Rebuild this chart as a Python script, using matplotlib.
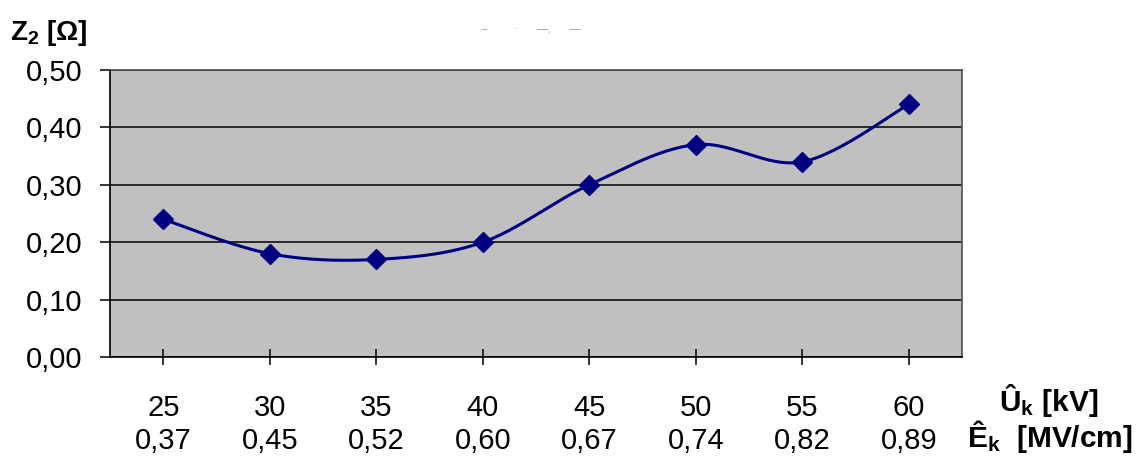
import numpy as np
import matplotlib
matplotlib.use("Agg")
import matplotlib.pyplot as plt

plt.rcParams["font.family"] = ["Liberation Sans", "DejaVu Sans"]
plt.rcParams["mathtext.fontset"] = "custom"
plt.rcParams["mathtext.rm"] = "Liberation Sans"
plt.rcParams["mathtext.bf"] = "Liberation Sans:bold"

# peak voltage [kV] and peak field [MV/cm] per measurement
u_kv = ["25", "30", "35", "40", "45", "50", "55", "60"]
e_mvcm = ["0,37", "0,45", "0,52", "0,60", "0,67", "0,74", "0,82", "0,89"]
z2 = [0.24, 0.18, 0.17, 0.20, 0.30, 0.37, 0.34, 0.44]

NAVY = "#000080"


def smooth(x, y, n=30, t=1 / 6):
    # cardinal bezier through the points, like office chart smoothing
    x = np.asarray(x, float)
    y = np.asarray(y, float)
    px, py = [x[0]], [y[0]]
    s = np.linspace(0, 1, n)[1:]
    for i in range(len(x) - 1):
        i0, i3 = max(i - 1, 0), min(i + 2, len(x) - 1)
        c1 = (x[i] + t * (x[i + 1] - x[i0]), y[i] + t * (y[i + 1] - y[i0]))
        c2 = (x[i + 1] - t * (x[i3] - x[i]), y[i + 1] - t * (y[i3] - y[i]))
        b0, b1, b2, b3 = (1 - s) ** 3, 3 * s * (1 - s) ** 2, 3 * s ** 2 * (1 - s), s ** 3
        px.extend(b0 * x[i] + b1 * c1[0] + b2 * c2[0] + b3 * x[i + 1])
        py.extend(b0 * y[i] + b1 * c1[1] + b2 * c2[1] + b3 * y[i + 1])
    return np.array(px), np.array(py)


fig = plt.figure(figsize=(11.44, 4.59), dpi=100)
ax = fig.add_axes([0.0962, 0.2222, 0.7447, 0.6253])
ax.set_facecolor("#C0C0C0")

xs = np.arange(len(z2))
sx, sy = smooth(xs, z2)
ax.plot(sx, sy, color=NAVY, lw=2.2, zorder=3)
ax.plot(xs, z2, ls="none", marker="D", ms=10, color=NAVY, zorder=4)

ax.set_xlim(-0.5, len(z2) - 0.5)
ax.set_ylim(0, 0.5)
yt = np.arange(0, 0.51, 0.1)
ax.set_yticks(yt)
ax.set_yticklabels([f"{v:.2f}".replace(".", ",") for v in yt])
ax.set_xticks(xs)
ax.set_xticklabels([f"{a}\n{b}" for a, b in zip(u_kv, e_mvcm)], linespacing=1.25)
ax.grid(axis="y", color="black", lw=1.1)
ax.set_axisbelow(True)

for sp in ax.spines.values():
    sp.set_color("#505050")
    sp.set_linewidth(1.2)
ax.spines["left"].set_color("black")
ax.spines["bottom"].set_color("black")

ax.tick_params(axis="y", direction="out", length=7, width=1.1, labelsize=21, pad=13)
ax.tick_params(axis="x", direction="inout", length=11, width=1.1, labelsize=21, pad=21)

fig.text(0.0087, 0.913, r"$\mathbf{Z_2}$ [Ω]", fontsize=20, fontweight="bold", va="baseline")
fig.text(0.873, 0.104, r"$\mathbf{Û_k}$ [kV]", fontsize=21.5, fontweight="bold", va="baseline")
fig.text(0.845, 0.026, r"$\mathbf{Ê_k}$  [MV/cm]", fontsize=21.5, fontweight="bold", va="baseline")
# leftover fragments of a faded caption line
fig.text(0.421, 0.935, "‒          ·       ‒‒,       ‒‒", fontsize=7, color="#909090", va="center")

fig.savefig("out.png", dpi=100)
